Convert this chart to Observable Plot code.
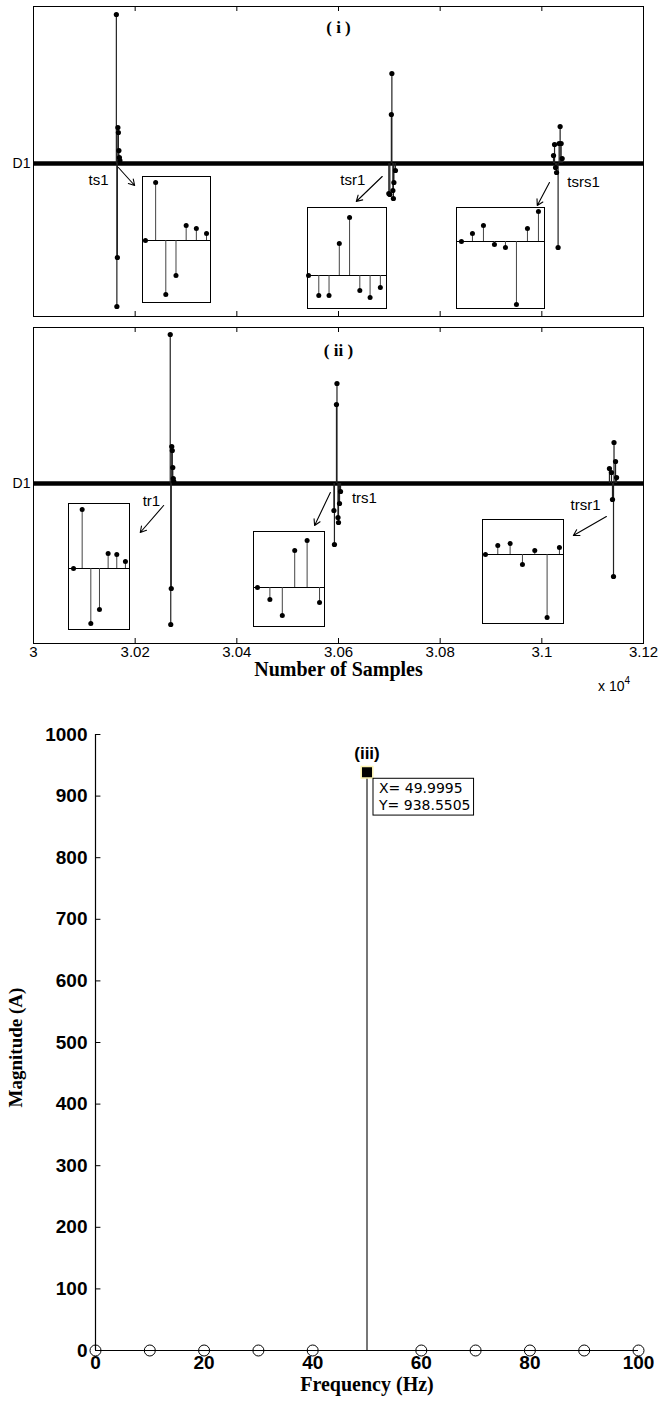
<!DOCTYPE html>
<html><head><meta charset="utf-8">
<script src="https://cdn.jsdelivr.net/npm/d3@7"></script>
<script src="https://cdn.jsdelivr.net/npm/@observablehq/plot@0.6"></script>
<style>
body{margin:0;background:#fff;}
#chart{position:relative;width:661px;height:1406px;overflow:hidden;background:#fff;}
#chart > svg, #chart > div{position:absolute;}
</style></head><body><div id="chart"></div>
<script>
// ---------------- data ----------------
const sampleTicks = [30000, 30200, 30400, 30600, 30800, 31000, 31200];
const innerSampleTicks = [30200, 30400, 30600, 30800, 31000];

// panel (i): D1 detail coefficients around the events ts1, tsr1, tsrs1
const d1iSamples = [30163,30164,30165,30166,30167,30168,30169,30170,
                    30699,30701,30704,30705,30707,30708,30709,30712,
                    31023,31025,31027,31029,31032,31034,31036,31038,31040];
const d1iValues  = [1.49,-1.43,-0.94,0.36,0.31,0.13,0.06,0.03,
                    -0.30,-0.31,0.49,0.90,-0.27,-0.35,-0.19,-0.07,
                    0.08,0.19,-0.04,-0.09,-0.84,0.20,0.37,0.20,0.05];
// panel (ii): D1 detail coefficients around tr1, trs1, trsr1
const d1iiSamples = [30269,30270,30271,30272,30273,30274,30275,30276,
                     30591,30592,30596,30597,30599,30600,30602,30604,
                     31133,31137,31139,31141,31142,31145,31147];
const d1iiValues  = [1.49,-1.41,-1.05,0.37,0.33,0.16,0.05,0.02,
                     -0.27,-0.61,0.79,1.00,-0.34,-0.39,-0.20,-0.08,
                     0.15,0.11,-0.16,-0.93,0.41,0.22,0.06];

// zoomed insets (coefficient k = 1..n)
const insetTs1   = [0, 58, -54, -35, 15, 12, 7];
const insetTsr1  = [0, -20, -20, 32, 58, -15, -22, -12];
const insetTsrs1 = [0, 8, 16, -3, -6, -63, 13, 30];
const insetTr1   = [0, 59, -55, -41, 15, 14, 7];
const insetTrs1  = [0, -12, -28, 37, 47, -15];
const insetTrsr1 = [0, 9, 11, -10, 4, -63, 7];

// event labels and arrows (sample, D1 value)
const labelsI   = ["ts1", "tsr1", "tsrs1"];
const labelXI   = [30128, 30628, 31082];
const labelYI   = [-0.17, -0.17, -0.19];
const arrowI    = [[30167,-0.04,30199,-0.22],[30686,-0.13,30635,-0.38],[31015,-0.19,30991,-0.42]];
const labelsII  = ["tr1", "trs1", "trsr1"];
const labelXII  = [30232, 30651, 31086];
const labelYII  = [-0.18, -0.15, -0.22];
const arrowII   = [[30256,-0.22,30210,-0.49],[30584,-0.09,30553,-0.42],[31127,-0.33,31062,-0.52]];

// panel (iii): spectrum
const freqHz    = [0,10,20,30,40,50,60,70,80,90,100];
const magnitude = [0,0,0,0,0,938.5505,0,0,0,0,0];
const magTicks  = [0,100,200,300,400,500,600,700,800,900,1000];
const freqTicks = [0,20,40,60,80,100];
const peakX = 49.9995, peakY = 938.5505;

// ---------------- drawing ----------------
const chart = document.getElementById("chart");
const SANS = "'Liberation Sans', Arial, sans-serif";
const SERIF = "'Liberation Serif', 'Times New Roman', serif";

function place(el, left, top){ el.style.left = left + "px"; el.style.top = top + "px"; chart.appendChild(el); return el; }

function stemPanel(samples, values, yDomain, labels, lx, ly, arrows, title, titleDy, opts){
  const data = samples.map((s,i)=>({s, v: values[i]}));
  const ev = labels.map((t,i)=>({t, x: lx[i], y: ly[i]}));
  const ar = arrows.map(a=>({x1:a[0], y1:a[1], x2:a[2], y2:a[3]}));
  const marks = [
    Plot.ruleY([0], {stroke:"#000", strokeWidth:4.5}),
    Plot.ruleX(data, {x:"s", y1:0, y2:"v", stroke:"#222", strokeWidth:1.2}),
    Plot.dot(data, {x:"s", y:"v", r:2.6, fill:"#000"}),
    Plot.frame({stroke:"#000"}),
    Plot.ruleX(innerSampleTicks, {x:d=>d, y1:yDomain[1], y2:yDomain[1]-0.05, stroke:"#000"}),
    Plot.ruleX(innerSampleTicks, {x:d=>d, y1:yDomain[0], y2:yDomain[0]+0.05, stroke:"#000"}),
    Plot.axisY({ticks:[0], tickFormat:()=>"D1", tickSize:0, tickPadding:3, fontSize:14, fontFamily:SANS, label:null}),
    Plot.text(ev, {x:"x", y:"y", text:"t", fontSize:15, fontFamily:SANS, fill:"#000"}),
    Plot.arrow(ar, {x1:"x1", y1:"y1", x2:"x2", y2:"y2", stroke:"#000", strokeWidth:1.1, headLength:9}),
    Plot.text([title], {text:d=>d, frameAnchor:"top", dy:titleDy, fontSize:17, fontWeight:"bold", fontFamily:SERIF, fill:"#000"})
  ];
  if (opts.axis){
    marks.push(Plot.axisX({ticks:sampleTicks, tickFormat:d=>String(d/1e4), tickSize:0, tickPadding:3, fontSize:15, fontFamily:SANS, label:null}));
    marks.push(Plot.text(["Number of Samples"], {text:d=>d, frameAnchor:"bottom", dy:32, fontSize:20, fontWeight:"bold", fontFamily:SERIF, fill:"#000", letterSpacing:"0.6px"}));
  } else {
    marks.push(Plot.axisX({ticks:[], label:null}));
  }
  return Plot.plot({
    width:661, height:opts.height, marginLeft:33, marginRight:18, marginTop:opts.mt, marginBottom:opts.mb,
    x:{domain:[30000,31200]}, y:{domain:yDomain},
    style:{fontFamily:SANS, color:"#000", background:"transparent", overflow:"visible"},
    marks
  });
}

function inset(values, xDomain, yDomain, box){
  const data = values.map((v,i)=>({k:i+1, v}));
  const svg = Plot.plot({
    width:box[2]+2, height:box[3]+2, margin:1,
    x:{domain:xDomain, axis:null}, y:{domain:yDomain, axis:null},
    style:{background:"#fff", overflow:"visible"},
    marks:[
      Plot.frame({fill:"#fff"}),
      Plot.ruleY([0], {stroke:"#000", strokeWidth:1}),
      Plot.ruleX(data, {x:"k", y1:0, y2:"v", stroke:"#444", strokeWidth:1}),
      Plot.dot(data, {x:"k", y:"v", r:2.5, fill:"#000"}),
      Plot.frame({stroke:"#000", strokeWidth:1})
    ]
  });
  place(svg, box[0]-1, box[1]-1);
}

const p1 = stemPanel(d1iSamples, d1iValues, [-1.53, 1.57], labelsI, labelXI, labelYI, arrowI, "( i )", 14, {height:322, mt:6, mb:6});
place(p1, 0, 0);
const p2 = stemPanel(d1iiSamples, d1iiValues, [-1.60, 1.56], labelsII, labelXII, labelYII, arrowII, "( ii )", 16, {height:371, mt:5, mb:50, axis:true});
place(p2, 0, 322);

const exp = document.createElement("div");
exp.innerHTML = "x 10<sup style='font-size:10px;vertical-align:7px'>4</sup>";
exp.style.font = "14px " + SANS;
place(exp, 598, 675);

// insets [left, top, width, height]
inset(insetTs1,   [0.71, 7.39], [-62, 64], [142, 176, 68, 126]);
inset(insetTsr1,  [0.90, 8.60], [-33, 68], [307, 207, 79, 101]);
inset(insetTsrs1, [0.55, 8.55], [-67, 34], [456, 207, 88, 101]);
inset(insetTr1,   [0.42, 7.47], [-61, 65], [68, 503, 61, 126]);
inset(insetTrs1,  [0.68, 6.40], [-39, 56], [253, 531, 71, 95]);
inset(insetTrsr1, [0.76, 7.33], [-69, 35], [482, 519, 81, 104]);

// panel (iii)
const fft = freqHz.map((f,i)=>({f, m: magnitude[i]}));
const p3 = Plot.plot({
  width:661, height:706, marginLeft:95, marginRight:23, marginTop:34, marginBottom:56,
  x:{domain:[0,100]}, y:{domain:[0,1000]},
  style:{fontFamily:SANS, color:"#000", background:"transparent", overflow:"visible"},
  marks:[
    Plot.ruleX(fft, {x:"f", y1:0, y2:"m", stroke:"#555", strokeWidth:1.6}),
    Plot.ruleY([0], {stroke:"#000", strokeWidth:1.2}),
    Plot.ruleX([0], {stroke:"#000", strokeWidth:1.2}),
    Plot.ruleY(magTicks, {y:d=>d, x1:0, x2:1, stroke:"#000"}),
    Plot.dot(fft.filter(d=>d.m===0), {x:"f", y:"m", r:5.5, stroke:"#000", fill:"none", strokeWidth:1}),
    Plot.dot([{x:peakX, y:peakY}], {x:"x", y:"y", symbol:"square", r:6.5, fill:"#000", stroke:"#fbf3b0", strokeWidth:1.5}),
    Plot.axisY({ticks:magTicks, tickFormat:d=>String(d), tickSize:0, tickPadding:8, fontSize:19, fontWeight:"bold", fontFamily:SANS, label:null}),
    Plot.axisX({ticks:freqTicks, tickFormat:d=>String(d), tickSize:0, tickPadding:5, fontSize:19, fontWeight:"bold", fontFamily:SANS, label:null}),
    Plot.text(["(iii)"], {text:d=>d, frameAnchor:"top", dy:12, fontSize:17, fontFamily:SANS, fontWeight:"bold", fill:"#000"}),
    Plot.text([{x:peakX, y:peakY}], {x:"x", y:"y", text:d=>`X= ${d.x}\nY= ${d.y}`, dx:12, dy:9, textAnchor:"start", lineAnchor:"top", lineHeight:1.2, fontSize:14, fontFamily:"'DejaVu Sans', sans-serif", fill:"#000"}),
    Plot.text(["Magnitude (A)"], {text:d=>d, frameAnchor:"left", textAnchor:"middle", rotate:-90, dx:-80, dy:5, fontSize:19, fontWeight:"bold", fontFamily:SERIF, fill:"#000", letterSpacing:"0.5px"}),
    Plot.text(["Frequency (Hz)"], {text:d=>d, frameAnchor:"bottom", dy:40, fontSize:20, fontWeight:"bold", fontFamily:SERIF, fill:"#000", letterSpacing:"1.5px"})
  ]
});
place(p3, 0, 700);

// box around the data tip
d3.select(p3).selectAll("text").each(function(){
  if (this.textContent.startsWith("X=")){
    const bb = this.getBBox();
    const r = document.createElementNS("http://www.w3.org/2000/svg","rect");
    r.setAttribute("x", bb.x - 5); r.setAttribute("y", bb.y - 2);
    r.setAttribute("width", bb.width + 8); r.setAttribute("height", bb.height + 4);
    r.setAttribute("fill", "#fff"); r.setAttribute("stroke", "#000");
    const t = this.getAttribute("transform"); if (t) r.setAttribute("transform", t);
    this.parentNode.insertBefore(r, this);
  }
});
</script></body></html>
